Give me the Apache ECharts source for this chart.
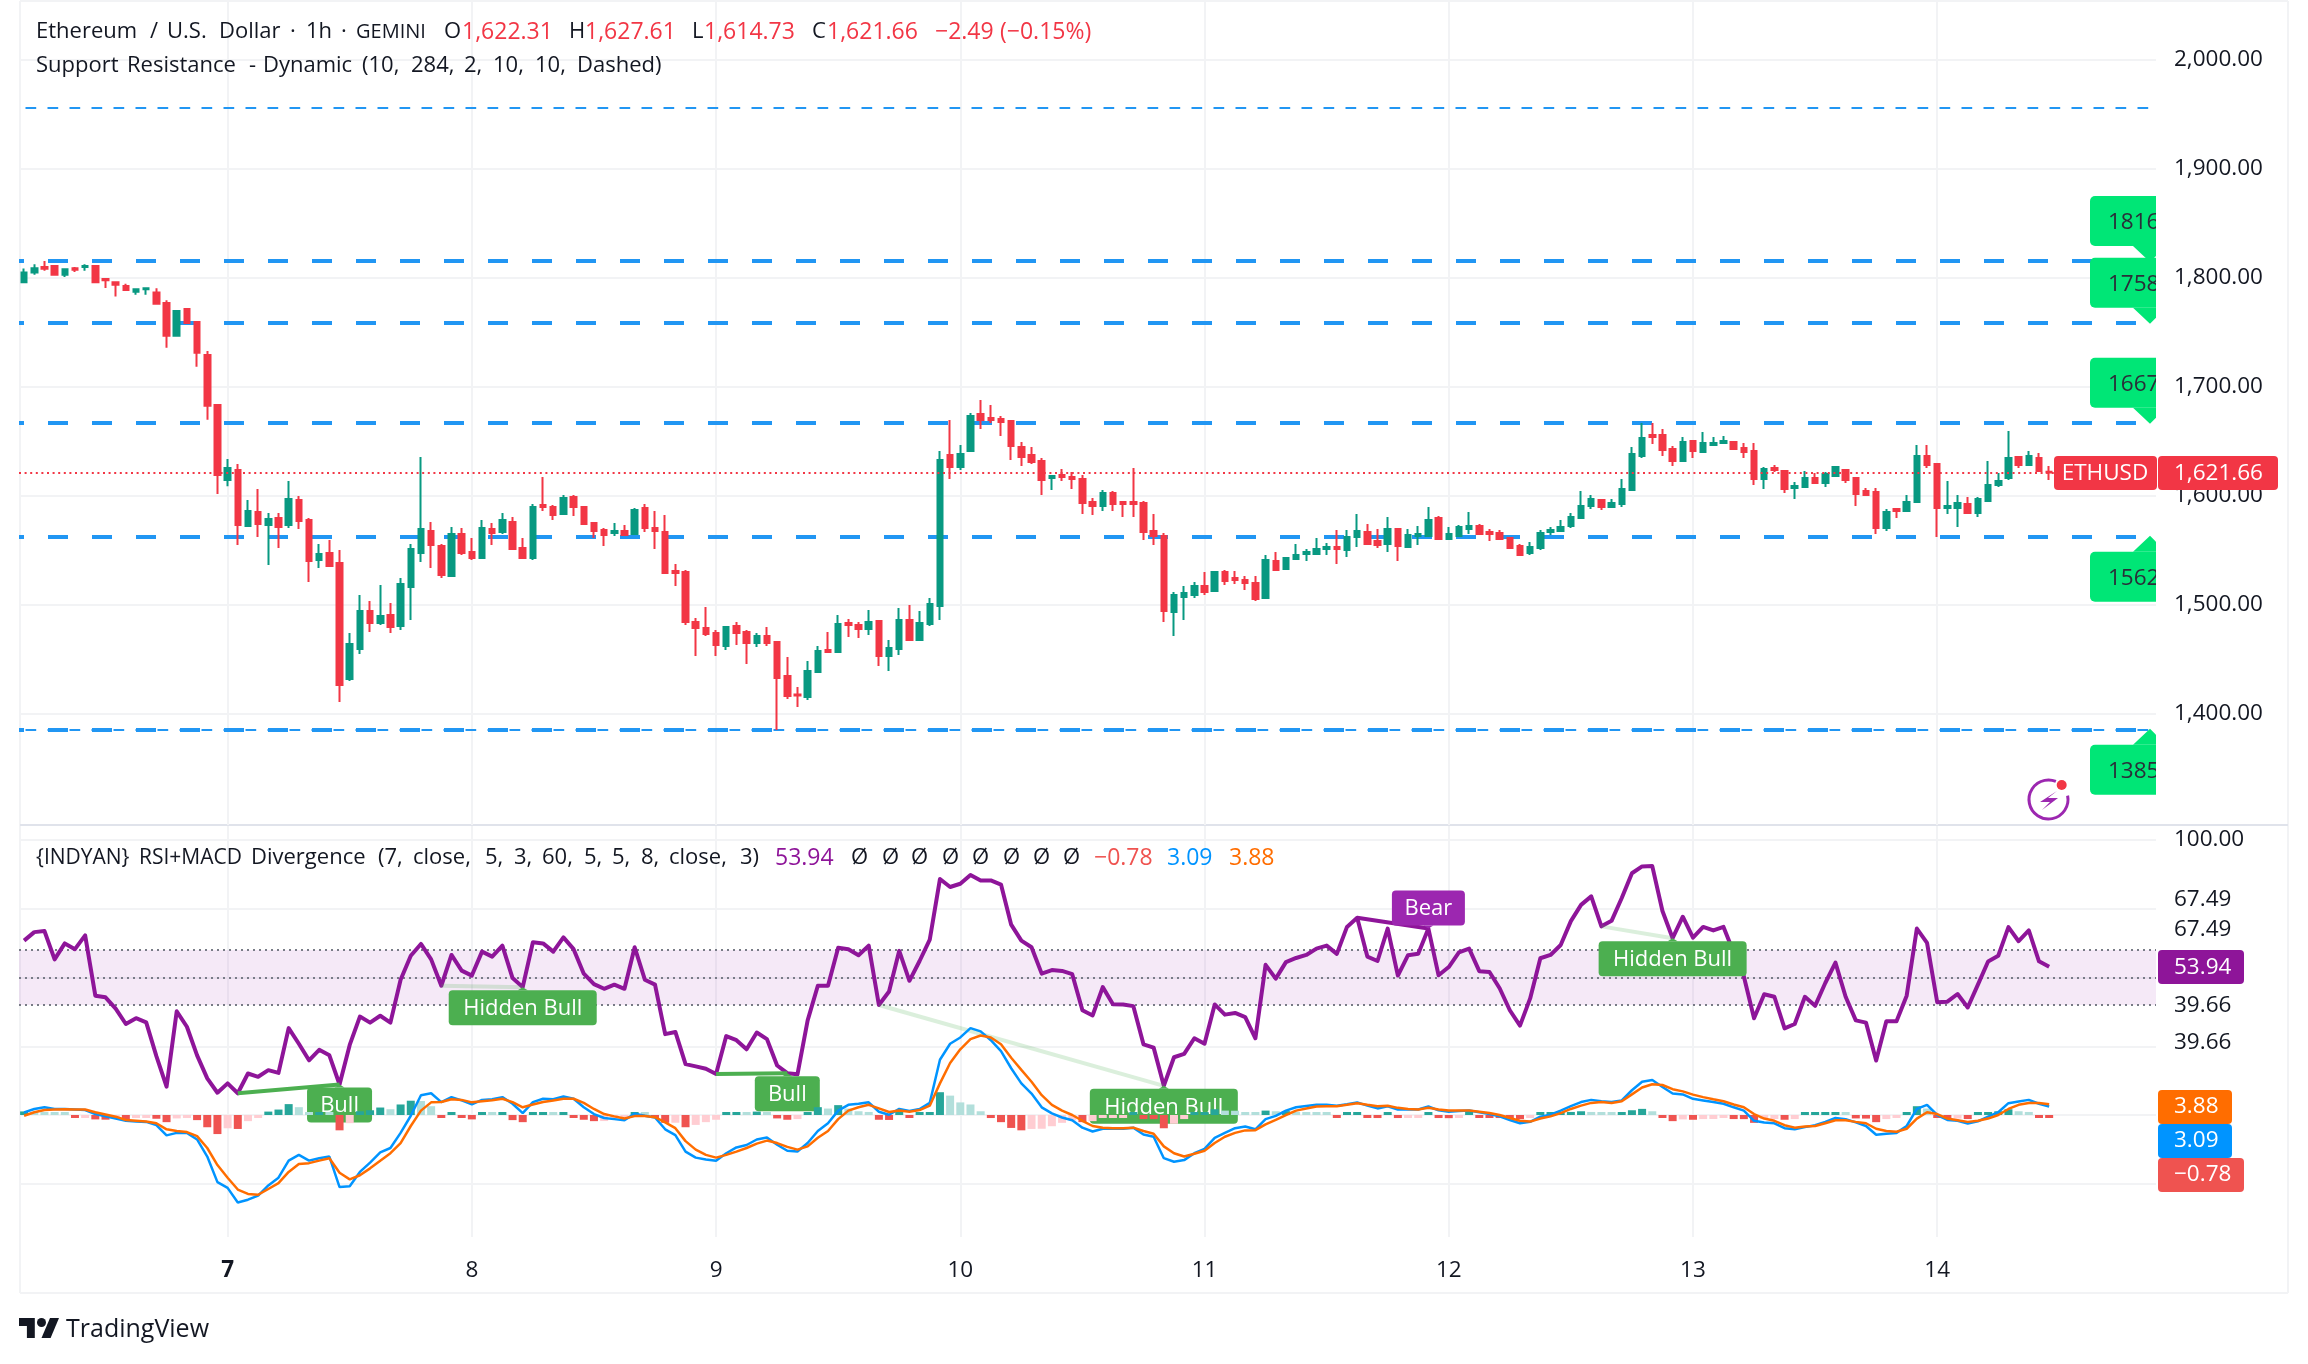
<!DOCTYPE html>
<html>
<head>
<meta charset="utf-8">
<title>ETHUSD</title>
<style>
  html, body { margin: 0; padding: 0; background: #fff; }
  #main { width: 2308px; height: 1364px; }
</style>
<script src="https://cdn.jsdelivr.net/npm/echarts@6/dist/echarts.min.js"></script>
</head>
<body>
<div id="main"></div>
<script>
// candles, one row = 10 bars (1h)
var opens = [
  1796,1805,1810,1811,1803,1809,1810,1811,1799,1796,
  1792.6,1787.4,1789.6,1786.8,1777,1747,1771.5,1759.6,1729.3,1683.4,
  1614.7,1623.8,1572.5,1585.3,1573.4,1579.8,1573.4,1596.3,1578,1541.3,
  1547.7,1538.5,1432.1,1459.6,1494.5,1483.5,1490.8,1480.7,1516.5,1547.7,
  1567.9,1554.1,1526.6,1565.1,1548.6,1543.1,1569.7,1567,1576.1,1552.3,
  1543.1,1591.7,1589.9,1583.5,1599,1589.9,1575.2,1568.8,1566,1567.9,
  1565.1,1589,1570.6,1567,1531.2,1530.2,1484.4,1478.9,1474.3,1462.4,
  1480.7,1475.2,1465.1,1471.5,1466,1434.8,1418,1415.6,1438.6,1458.8,
  1456.9,1483.5,1481.7,1478,1485.4,1453.2,1459.7,1486.3,1468,1482.6,
  1499.1,1637.6,1626.6,1641.3,1675.3,1671.6,1670.7,1668.8,1645,1637.6,
  1632.1,1616.5,1619.3,1617.5,1615.6,1594.5,1590.9,1602.8,1594.5,1594.5,
  1593.6,1567.9,1563.3,1493.6,1507.4,1509.2,1517.5,1512.9,1530.3,1524.8,
  1523,1520.2,1506.5,1540.4,1533,1542.2,1546.8,1546.8,1551.4,1553.2,
  1550.5,1562.4,1567,1558.7,1556,1569.8,1553.2,1563.3,1563.3,1579.9,
  1560.6,1563.3,1569.8,1572.5,1567,1566.1,1561.5,1554.2,1547.7,1552.3,
  1567,1567.9,1572.5,1579.9,1590.9,1596.4,1589.9,1592.7,1605.5,1636.7,
  1656,1656,1643.2,1632.1,1650.5,1640.4,1646.8,1648.7,1649.6,1644.1,
  1641.3,1615.6,1625.7,1623,1607.4,1608.3,1616.5,1612,1618.4,1623.9,
  1616.5,1604.6,1603.7,1570.7,1588.1,1586.3,1594.5,1636.7,1629.4,1589,
  1589,1592.7,1584.4,1595.4,1610.1,1616.5,1635.8,1628.5,1634.9,1622.31
];
var closes = [
  1805,1809,1808.5,1803,1808,1807.6,1811,1796,1798,1793.8,
  1789,1789.6,1790.5,1776.4,1747,1769.7,1758.7,1731.5,1682.8,1619.2,
  1625.7,1573.4,1586.2,1574.3,1578.9,1571.5,1597.2,1577,1540.3,1546.8,
  1535.8,1426.6,1464.2,1494.5,1483.5,1489.9,1479.8,1519.2,1551.4,1569.7,
  1555,1527.5,1565.1,1547.7,1543.1,1570.6,1566,1578,1551.4,1543.1,
  1589.9,1589.9,1582.5,1598.1,1589.9,1574.3,1567.9,1564.2,1567.9,1564.2,
  1587.1,1570.6,1567.9,1529.3,1529.3,1484.4,1478.9,1473.4,1463.3,1479.8,
  1474.3,1465.1,1471.5,1465.1,1433,1416.5,1417,1439.5,1457.8,1456.9,
  1482.6,1481.7,1478,1484.4,1453.2,1460.6,1486.3,1468,1483.5,1501,
  1633,1626.6,1638.6,1673.4,1669.8,1669.8,1667.9,1645.9,1635.8,1631.2,
  1614.7,1618.4,1617.5,1615.6,1593.6,1590.9,1602.8,1592.7,1592.7,1592.7,
  1567,1563.3,1494.5,1509.2,1511,1517.5,1512,1530.3,1522,1523,
  1520.2,1505.5,1541.3,1532.1,1543.2,1545.9,1548.7,1551.4,1553.2,1551.4,
  1562.4,1567.9,1556,1555.1,1569.8,1554.2,1564.3,1565.2,1578,1560.6,
  1565.2,1571.6,1572.5,1565.2,1565.2,1560.6,1552.3,1545.9,1553.2,1566.1,
  1568.8,1571.6,1580.8,1590.9,1597.3,1589.9,1593.6,1606.5,1638.6,1653.2,
  1654.2,1642.2,1632.1,1649.6,1641.3,1648.7,1648.7,1650.5,1643.2,1640.4,
  1615.6,1624.8,1623.9,1606.5,1609.2,1616.5,1612,1620.2,1626.6,1614.7,
  1601.9,1601,1570.7,1585.4,1586.3,1594.5,1636.7,1628.5,1589,1590.9,
  1593.6,1584.4,1597.3,1610.1,1613.8,1634.9,1628.5,1636.7,1623,1621.66
];
var lows = [
  1795.7,1803,1806.7,1803,1801,1805.5,1806.7,1796,1790.8,1783,
  1789,1784.7,1784.7,1776.4,1736,1746,1758.7,1718.6,1670,1601.8,
  1609,1555,1572.5,1562.4,1536.7,1552.3,1570.6,1569.7,1521.1,1533.9,
  1535.8,1411,1430.3,1455,1475.2,1481.6,1474.3,1477,1486.2,1539.4,
  1533.9,1524.7,1526.6,1545.8,1541.3,1543.1,1555,1565.1,1550.4,1543.1,
  1541.3,1586.2,1578,1583.5,1581.6,1573.4,1561.4,1554.1,1563.3,1564.2,
  1564.2,1566.9,1551.4,1529.3,1517.4,1481.6,1453.2,1471.5,1453.2,1458.7,
  1463.3,1445.8,1461.4,1462.4,1385.3,1413.8,1406.4,1412.9,1438.6,1456.9,
  1456.9,1470.7,1469.8,1472.5,1444,1439.5,1454.2,1468,1468,1480.8,
  1486.3,1615.6,1623.9,1641.3,1661.5,1667,1655.1,1633.1,1627.6,1629.4,
  1601,1605.5,1613.8,1606.5,1583.5,1582.6,1586.3,1586.3,1580.8,1580.8,
  1559.7,1555.1,1484.4,1471.6,1486.3,1506.5,1509.2,1512.9,1518.4,1519.3,
  1513.8,1503.7,1505.5,1532.1,1533,1542.2,1540.4,1546.8,1545.9,1537.7,
  1544.1,1553.2,1555.1,1552.3,1548.7,1540.4,1553.2,1555.1,1562.4,1560.6,
  1560.6,1562.4,1565.2,1565.2,1558.7,1559.7,1551.4,1545.9,1545.9,1550.5,
  1564.3,1567.9,1570.7,1579.9,1588.1,1587.2,1589.9,1589.9,1604.6,1634.9,
  1647.7,1636.7,1627.6,1632.1,1634.9,1640.4,1645.9,1648.7,1643.2,1634.9,
  1610.1,1606.5,1622,1602.8,1597.3,1608.3,1611,1608.3,1617.5,1612,
  1590.9,1600,1565.2,1567.9,1579.9,1586.3,1594.5,1625.7,1562.4,1583.5,
  1571.6,1583.5,1580.8,1595.4,1608.3,1614.7,1625.7,1628.5,1623,1614.73
];
var highs = [
  1808.8,1812.5,1815.6,1811.5,1808,1810,1812.5,1811,1799.6,1796,
  1794.8,1789.6,1790.5,1790.5,1779.5,1769.7,1772.4,1759.6,1733,1683.4,
  1633.9,1629.3,1596.3,1606.4,1584.4,1584.4,1613.7,1600,1579.8,1555.9,
  1559.6,1550.4,1474.3,1509.2,1503.6,1518.3,1501.8,1524.7,1555.9,1635.8,
  1576.1,1555.9,1571.5,1570.6,1561.4,1578,1575.2,1584.4,1580.7,1561.4,
  1592.6,1617.4,1591.7,1600.9,1600.9,1589.9,1576.1,1570.6,1575.2,1573.4,
  1589,1592.6,1586.2,1582.5,1537.6,1532.1,1488.1,1498.1,1477,1480.7,
  1484.4,1477,1474.3,1479.8,1467,1452.3,1424.7,1448.7,1462.4,1475.3,
  1490.9,1487.2,1484.4,1495.5,1485.4,1467.9,1497.3,1500,1494.5,1506.5,
  1641.3,1669.8,1646.8,1676.2,1688.1,1683.5,1673.4,1668.8,1649.6,1645,
  1634.9,1619.3,1624.8,1622,1619.3,1598.2,1605.5,1604.6,1595.4,1625.7,
  1595.4,1583.5,1566.1,1511.9,1517.5,1521.1,1530.3,1531.2,1532.1,1531.2,
  1526.6,1526.6,1545.9,1548.7,1544,1556,1551.4,1561.5,1556.9,1568.8,
  1568.8,1583.5,1574.3,1569.8,1580.8,1569.8,1569.8,1572.5,1589.9,1581.7,
  1571.6,1573.4,1585.4,1574.3,1569.8,1568.8,1562.4,1556,1557.8,1568.8,
  1571.6,1578,1584.4,1604.6,1601,1596.4,1597.3,1615.6,1645,1667,
  1667,1661.5,1645.9,1654.2,1650.5,1658.7,1654.2,1655.1,1650.5,1648.7,
  1648.7,1626.6,1628.5,1623,1612.9,1623,1621.1,1622,1626.6,1623.9,
  1616.5,1607.4,1607.4,1588.1,1588.1,1600.9,1646.8,1646.8,1629.4,1613.8,
  1600.9,1599.1,1599.1,1632.1,1621.1,1659.7,1635.8,1641.3,1639.5,1627.61
];
// lower pane
var rsi = [
  63.4,66.5,66.9,56.6,62.4,60.3,65.3,43.4,42.8,38.7,
  33.1,35.2,33.7,21.4,10.3,37.7,32.1,21.7,13.3,8.1,
  11.5,7.9,15.1,13.9,16.3,15.3,31.6,25.9,19.9,23.7,
  21.7,11.1,25.5,35.8,33.6,36.1,33.6,49.2,57.9,62.2,
  56.6,47,58.2,52.5,50.7,59.4,57.6,61.6,49.8,46.5,
  62.8,62.4,59.4,64.6,60.3,51.4,47.6,45.9,47.4,45.9,
  61,49.2,47.4,29.4,30.2,18.5,17.7,16.8,14.9,28.7,
  27.2,23.9,30,27.6,18,15.2,14.8,34.4,47,47,
  60.8,60.3,58.1,61.6,40,44.9,59.7,48.8,56,63.8,
  85.8,82.9,84.1,87.3,85.3,85.3,83.8,69.2,63.4,61,
  51.4,52.7,52.4,51.2,38.1,36.2,46.5,40.3,40.2,39.6,
  25.7,24.5,10.6,21,22.2,27.9,25.9,40.2,36.5,37.1,
  35.6,27.9,54.6,49.6,55.6,57.1,58.2,60.5,61.6,58.6,
  68.4,71.7,57.6,56,67.8,50.7,58.1,58.6,67.8,50.8,
  53.8,59.1,60.5,52.3,52,46.1,38.1,32.5,42.4,57,
  58.2,61.8,70.5,76.4,79.5,68.6,70.6,78.9,87.9,90.4,
  90.5,74.2,64.3,72.1,64.5,68.4,67.1,68.4,59.1,50.4,
  35.2,43.9,43,31.5,33.1,43,39.7,48,55.4,43,
  34.4,33.6,19.8,34.1,34.1,43.4,67.8,62.6,41,41.2,
  44,39.1,47.4,55.8,57.9,68.3,63.2,67.1,55.9,53.94
];
var macd = [
  0.97,2.2,2.8,2.2,2.2,2,1.8,0.35,-0.5,-1.3,
  -2.1,-2.4,-2.5,-3.7,-7.4,-6.5,-6.5,-8.9,-15.1,-24.4,
  -26.5,-31.8,-30.8,-29.3,-25.6,-22.8,-16.6,-14.5,-16.6,-15.7,
  -15.1,-26.2,-25.9,-20.7,-17.3,-13.6,-12,-6.5,-0.27,7.2,
  7.9,4.7,6.5,5.3,3.9,5.5,5.7,6.5,4.1,0.7,
  4.7,5.9,5.7,6.7,5.9,2.8,0.35,-1.1,-1.5,-1.9,
  0.5,-0.27,-0.9,-5.2,-7.3,-13.3,-15.5,-16.2,-16.6,-13.9,
  -11.8,-10.9,-8.9,-8.2,-10.8,-13,-13.3,-10.2,-5.8,-3,
  1.6,3.7,4.1,4.6,1.2,0.1,2.2,1.5,2.2,4.4,
  20.1,25.9,28.2,31.6,30.4,27.2,23.2,17,11.5,7.8,
  2.8,0.6,-0.9,-1.9,-4.6,-6,-5,-5,-5,-4.6,
  -7.1,-7.9,-15.7,-17,-16.4,-13.9,-12.3,-8.3,-6.5,-4.8,
  -4.2,-5.2,-1.5,-0.3,1.6,2.8,3.3,3.7,3.7,3.4,
  3.9,4.6,3.4,2.4,3.2,2,2,2,3.1,1.7,
  1.2,1.5,1.6,1,0.35,-0.5,-1.8,-3,-2.5,-0.6,
  0.1,1.6,3.2,4.7,5.5,5,4.7,5.3,9,12.1,
  12.7,10.2,7.8,7.5,5.9,5.3,4.7,4.1,2.8,1.6,
  -2.1,-2.7,-3,-4.8,-5.2,-4.4,-3.7,-2.5,-1.1,-1.5,
  -2.7,-4,-7.2,-6.8,-6.5,-4,2.2,3.7,0,-1.8,
  -2.1,-3.1,-2.3,-0.6,1,4.3,4.9,5.5,4.1,3.09
];
var signal = [
  -0.27,1,1.8,2,2.1,2,2,1,0.2,-0.6,
  -1.8,-2.1,-2.4,-3,-5.2,-5.8,-6.2,-7.7,-12,-18.2,
  -22.8,-27.1,-28.7,-29,-26.9,-24.8,-20.7,-17.8,-17.5,-16.6,
  -15.7,-21,-23.4,-21.9,-19.4,-16.6,-13.9,-10.2,-4,1.6,
  4.6,4.7,5.7,5.5,4.6,5,5.4,5.9,4.7,2.8,
  3.8,4.7,5.3,5.9,5.9,4.4,2.2,0.35,-0.5,-1.3,
  -0.4,-0.4,-0.8,-2.7,-4.8,-9.5,-12.6,-14.5,-15.5,-14.5,
  -13.3,-12,-10.4,-9.3,-10.2,-11.6,-12.6,-11.4,-8.3,-5.8,
  -1.5,1.6,2.8,3.7,2.4,1.1,1.6,1.2,1.8,3.4,
  11.5,18.9,23.9,27.6,28.9,28.2,25.7,20.8,16.4,12.1,
  7.2,3.7,1.6,0,-2.1,-4,-4.6,-4.8,-4.8,-4.6,
  -5.8,-6.8,-11.4,-13.9,-15.1,-14.1,-13,-10.2,-7.9,-6.5,
  -5.6,-5.5,-3.4,-1.8,0,1.6,2.4,3.1,3.2,3.2,
  3.7,4.3,3.7,3.2,3.4,2.6,2.2,2,2.6,2,
  1.6,1.6,1.6,1.2,0.7,0,-1.1,-2.1,-2.4,-1.3,
  -0.5,0.7,2.2,3.4,4.4,4.7,4.4,5,7.5,10,
  11.2,10.9,9.4,8.6,7.4,6.5,5.7,5,3.8,2.8,
  0.35,-1.3,-2.1,-3.7,-4.6,-4.2,-4,-3,-1.9,-1.9,
  -2.5,-3,-5,-5.8,-6.1,-5,-1.3,1,0.35,-1.3,
  -1.9,-2.5,-2.1,-1.3,0,2.2,3.7,4.4,4.4,3.88
];
var hist = [
  1.3,1.1,0.5,0.15,0.1,-0.87,-0.5,-1.6,-1.7,-0.87,
  -1.6,-1.1,-0.87,-1.36,-2.6,-1.24,-1.1,-1.86,-4.45,-6.93,
  -4.82,-5.07,-2.23,-0.87,1.24,1.98,3.96,2.85,0.12,0.37,
  0.2,-5.57,-2.97,1.36,1.73,2.72,2.1,3.83,5.2,5.1,
  3.2,-0.74,0.87,-0.87,-1.6,0.15,0.12,0.3,-1.86,-2.6,
  0.5,0.87,0.3,0.5,-0.87,-1.73,-2.23,-2.2,-1.1,-0.87,
  0.15,0.05,-0.87,-2.85,-2.8,-4.45,-3.6,-2.6,-1.73,0.37,
  0.87,0.8,1.24,0.87,-1.24,-1.73,-1.48,0.99,2.85,2.35,
  3.59,2.35,1.36,1.11,-1.73,-1.8,0.15,-0.87,0.15,0.87,
  8.29,7.05,4.58,3.83,1.36,-1.1,-2.6,-4.7,-5.57,-5.07,
  -5,-4.08,-2.85,-1.98,-2.6,-2.23,-0.87,-0.8,-0.37,0.15,
  -1.48,-1.5,-4.82,-3.2,-1.48,0.15,0.87,2.1,1.6,1.55,
  0.87,0.12,1.6,1.36,1.4,0.74,0.62,0.5,0.12,-0.62,
  0.15,0.2,-0.87,-1.1,0.15,-1.1,-0.87,-0.8,0.2,-1.1,
  -1.15,-0.5,0.12,-0.87,-1,-1.1,-1.24,-1.48,-0.87,0.62,
  0.65,0.7,1.11,1.36,1.11,0.37,0.3,0.35,1.73,2.23,
  1.36,-0.87,-2.23,-1.6,-1.73,-1.48,-1.45,-1.1,-1.48,-1.5,
  -2.85,-1.48,-1.45,-1.73,-1.48,0.15,0.2,0.62,0.99,0.12,
  -1.24,-1.3,-2.6,-1.48,-0.87,0.62,3.2,2.35,-0.87,-1.36,
  -1.3,-1.48,0.12,0.87,1.36,2.1,1.36,1.11,-0.7,-0.78
];

var dayLabels = ['7','8','9','10','11','12','13','14'];
var firstDayBar = 20;
var barsPerDay = 24;
var barSlots = 210;           // 200 bars + empty space on the right

var priceTicks = [1400,1500,1600,1700,1800,1900,2000];
var oscGrid = [100,75,50,25,0,-25];
var oscLabels = [100,67.49,50,39.66,0,-25];
var oscLevels = [60,50,40];

var srLevels = [1815.6,1758.9,1667.2,1562.6,1385.6];
var srTexts = ['1816','1758','1667','1562','1385'];
var thinLevels = [1956,1385.6];
var lastPrice = 1621.66;

var divFrom = [21,41,68,84,131,155];
var divTo = [31,49,75,112,138,162];
var divKind = ['Bull','Hidden Bull','Bull','Hidden Bull','Bear','Hidden Bull'];

var FONT = '"Open Sans", sans-serif';
var TXT = 22;
var NUM = 23;
var AXT = 22.5;
var INK = '#131722';
var RED = '#f23645';
var GREEN = '#089981';
var BLUE = '#2196f3';
var PURPLE = '#8e1599';
var GRIDC = '#f2f3f5';

var categories = [];
for (var i = 0; i < barSlots; i++) {
  var d = (i - firstDayBar) / barsPerDay;
  categories.push(d >= 0 && d === Math.floor(d) && dayLabels[d] ? dayLabels[d] : '');
}

var candles = [];
for (var i = 0; i < opens.length; i++) {
  candles.push([opens[i], closes[i], lows[i], highs[i]]);
}

// histogram colours: same rule as the indicator, rising / falling against the previous bar
var histData = hist.map(function (v, i) {
  var prev = i > 0 ? hist[i - 1] : 0;
  var c;
  if (v >= 0) c = v > prev ? '#26a69a' : '#b2dfdb';
  else c = v < prev ? '#ef5350' : '#ffcdd2';
  return { value: v, itemStyle: { color: c } };
});

// day lines for both panes
var dayLines = [];
dayLabels.forEach(function (t, k) {
  dayLines.push({ xAxis: firstDayBar + k * barsPerDay });
});

var levelLines = srLevels.map(function (v) {
  return { yAxis: v, lineStyle: { color: BLUE, width: 4, type: [20, 24], dashOffset: 15 } };
});
thinLevels.forEach(function (v) {
  levelLines.push({ yAxis: v, lineStyle: { color: BLUE, width: 2, type: [10.7, 11.3], dashOffset: 15.5 } });
});

function txt(text, x, y, color, size, align) {
  return {
    type: 'text', z: 60, silent: true,
    style: {
      text: text, x: x, y: y, fill: color, font: (size || TXT) + 'px ' + FONT,
      align: align || 'left', verticalAlign: 'middle'
    }
  };
}
function tag(x, y, w, h, color) {
  return { type: 'rect', z: 55, silent: true, shape: { x: x, y: y, width: w, height: h, r: 4 }, style: { fill: color } };
}
function hline(x1, y1, x2, y2, color) {
  return { type: 'line', z: 0, silent: true, shape: { x1: x1, y1: y1, x2: x2, y2: y2 }, style: { stroke: color, lineWidth: 2 } };
}
// the header words are placed one by one, the reference font has wider spaces
function words(list, y) {
  return list.map(function (w) { return txt(w[0], w[1], y, w[2] || INK, w[3]); });
}

var graphics = [
  hline(20, 1, 2288, 1, GRIDC), hline(20, 1, 20, 1293, GRIDC),
  hline(2288, 1, 2288, 1293, GRIDC), hline(20, 1293, 2288, 1293, GRIDC),
  hline(20, 825, 2288, 825, '#e0e3eb'),

  // price tag
  tag(2054, 456, 103, 34, RED), tag(2158, 456, 120, 34, RED),
  txt('ETHUSD', 2105, 474, '#fff', AXT, 'center'), txt('1,621.66', 2174, 474, '#fff', AXT),

  // displaced scale labels
  txt('67.49', 2174, 900, INK, AXT), txt('39.66', 2174, 1043, INK, AXT),

  // indicator tags
  tag(2158, 950, 86, 34, PURPLE), txt('53.94', 2174, 968, '#fff', AXT),
  tag(2158, 1090, 74, 34, '#ff6d00'), txt('3.88', 2174, 1107, '#fff', AXT),
  tag(2158, 1124, 74, 34, '#0094ff'), txt('3.09', 2174, 1141, '#fff', AXT),
  tag(2158, 1158, 86, 34, '#ef5350'), txt('−0.78', 2174, 1175, '#fff', AXT),

  // logo
  {
    type: 'polygon', z: 60, silent: true,
    shape: { points: [[19,1318],[34.8,1318],[34.8,1338],[26.9,1338],[26.9,1326],[19,1326]] },
    style: { fill: INK }
  },
  {
    type: 'polygon', z: 60, silent: true,
    shape: { points: [[50.6,1338],[41.5,1338],[50,1318],[59,1318]] },
    style: { fill: INK }
  },
  { type: 'circle', z: 60, silent: true, shape: { cx: 41.5, cy: 1322.5, r: 4.5 }, style: { fill: INK } },
  txt('TradingView', 66, 1330, INK, 25),

  // lightning badge
  {
    type: 'arc', z: 60, silent: true,
    shape: { cx: 2048.5, cy: 799.5, r: 19.5, startAngle: -0.2, endAngle: 5.1, clockwise: true },
    style: { fill: 'none', stroke: '#9c27b0', lineWidth: 3 }
  },
  {
    type: 'polygon', z: 60, silent: true,
    shape: { points: [[2057,791],[2040,802],[2050,802],[2042,810],[2058,798],[2048,798]] },
    style: { fill: '#9c27b0' }
  },
  { type: 'circle', z: 61, silent: true, shape: { cx: 2061.7, cy: 785, r: 5 }, style: { fill: RED } }
].concat(
  words([
    ['Ethereum', 36], ['/', 150], ['U.S.', 167], ['Dollar', 219], ['·', 290], ['1h', 306], ['·', 341], ['GEMINI', 356, INK, 20],
    ['O', 444], ['1,622.31', 462, RED, NUM], ['H', 569], ['1,627.61', 585, RED, NUM],
    ['L', 692], ['1,614.73', 704, RED, NUM], ['C', 812], ['1,621.66', 827, RED, NUM],
    ['−2.49', 935, RED, NUM], ['(−0.15%)', 1000, RED, NUM]
  ], 32),
  words([
    ['Support', 36], ['Resistance', 127], ['-', 249], ['Dynamic', 263], ['(10,', 362], ['284,', 411],
    ['2,', 464], ['10,', 493], ['10,', 535], ['Dashed)', 577]
  ], 66),
  words([
    ['{INDYAN}', 36, INK, 21], ['RSI+MACD', 139, INK, 21], ['Divergence', 251], ['(7,', 378], ['close,', 413], ['5,', 485], ['3,', 514],
    ['60,', 542], ['5,', 584], ['5,', 612], ['8,', 641], ['close,', 669], ['3)', 740],
    ['53.94', 775, PURPLE, NUM], ['Ø', 851], ['Ø', 882], ['Ø', 911], ['Ø', 942], ['Ø', 972], ['Ø', 1003], ['Ø', 1033], ['Ø', 1063],
    ['−0.78', 1094, '#ef5350', NUM], ['3.09', 1167, '#0094ff', NUM], ['3.88', 1229, '#ff6d00', NUM]
  ], 858)
);

var option = {
  animation: false,
  backgroundColor: '#fff',
  textStyle: { fontFamily: FONT },
  graphic: { elements: graphics },
  grid: [
    { left: 19, width: 2137, top: 1, height: 824 },
    { left: 19, width: 2137, top: 826, height: 411 }
  ],
  xAxis: [
    {
      type: 'category', gridIndex: 0, data: categories,
      axisLine: { show: false }, axisTick: { show: false }, axisLabel: { show: false }, splitLine: { show: false }
    },
    {
      type: 'category', gridIndex: 1, data: categories,
      axisLine: { show: false }, axisTick: { show: false }, splitLine: { show: false },
      axisLabel: {
        interval: function (i, v) { return v !== ''; },
        color: INK, fontSize: AXT, fontFamily: FONT, margin: 22,
        formatter: function (v) { return v === '7' ? '{b|7}' : v; },
        rich: { b: { fontWeight: 'bold', fontSize: AXT, color: INK, fontFamily: FONT } }
      }
    }
  ],
  yAxis: [
    {
      type: 'value', gridIndex: 0, position: 'right', min: 1298.2, max: 2054.1, scale: true,
      axisLine: { show: false },
      axisTick: { show: false, customValues: priceTicks },
      splitLine: { show: true, lineStyle: { color: GRIDC, width: 2 } },
      axisLabel: {
        customValues: priceTicks, color: INK, fontSize: AXT, fontFamily: FONT, margin: 18, padding: [4, 0, 0, 0],
        formatter: function (v) { return v.toLocaleString('en-US', { minimumFractionDigits: 2 }); }
      }
    },
    {
      type: 'value', gridIndex: 1, position: 'right', min: -44.36, max: 105.09, scale: true,
      axisLine: { show: false },
      axisTick: { show: false, customValues: oscGrid },
      splitLine: { show: true, lineStyle: { color: GRIDC, width: 2 } },
      axisLabel: {
        customValues: oscLabels, color: INK, fontSize: AXT, fontFamily: FONT, margin: 18, padding: [7, 0, 0, 0],
        formatter: function (v) { return v.toFixed(2); }
      }
    }
  ],
  series: [
    // day lines + support/resistance, top pane
    {
      type: 'line', xAxisIndex: 0, yAxisIndex: 0, data: [], z: 1,
      markLine: {
        silent: true, symbol: 'none', animation: false, z: 0, label: { show: false },
        lineStyle: { color: GRIDC, width: 2, type: 'solid' }, data: dayLines
      }
    },
    {
      type: 'line', xAxisIndex: 0, yAxisIndex: 0, data: [], z: 1,
      markLine: {
        silent: true, symbol: 'none', animation: false, z: 1, label: { show: false },
        data: levelLines
      }
    },
    {
      type: 'candlestick', name: 'ETHUSD', xAxisIndex: 0, yAxisIndex: 0, data: candles, z: 2,
      barWidth: 6,
      itemStyle: { color: GREEN, color0: RED, borderColor: GREEN, borderColor0: RED, borderWidth: 2 }
    },
    // last price line
    {
      type: 'line', xAxisIndex: 0, yAxisIndex: 0, data: [], z: 3,
      markLine: {
        silent: true, symbol: 'none', animation: false, z: 3, label: { show: false },
        data: [{ yAxis: lastPrice, lineStyle: { color: RED, width: 2, type: [2, 3.6] } }]
      }
    },
    // S/R flags
    {
      type: 'custom', xAxisIndex: 0, yAxisIndex: 0, z: 4, clip: true,
      data: srLevels.map(function (v) { return [0, v]; }),
      encode: { x: 0, y: 1 },
      renderItem: function (params, api) {
        var g = params.coordSys;
        var right = g.x + g.width;
        var y = api.coord([0, api.value(1)])[1];
        var above = api.value(1) > lastPrice;
        var top = above ? y - 65 : y + 15;
        var pts = above
          ? [[right - 23, y - 15], [right - 6, y + 1], [right + 1, y - 6], [right + 1, y - 15]]
          : [[right - 23, y + 15], [right - 6, y - 1], [right + 1, y + 6], [right + 1, y + 15]];
        return {
          type: 'group',
          children: [
            { type: 'rect', shape: { x: right - 66, y: top, width: 76, height: 50, r: 5 }, style: { fill: '#00e676' } },
            { type: 'polygon', shape: { points: pts }, style: { fill: '#00e676' } },
            {
              type: 'text',
              style: {
                text: srTexts[params.dataIndex], x: right - 48, y: top + 26.5, fill: '#2a2e39',
                font: AXT + 'px ' + FONT, align: 'left', verticalAlign: 'middle'
              }
            }
          ]
        };
      }
    },

    // lower pane: day lines, rsi band
    {
      type: 'line', xAxisIndex: 1, yAxisIndex: 1, data: [], z: 1,
      markLine: {
        silent: true, symbol: 'none', animation: false, z: 0, label: { show: false },
        lineStyle: { color: GRIDC, width: 2, type: 'solid' }, data: dayLines
      }
    },
    {
      type: 'line', xAxisIndex: 1, yAxisIndex: 1, data: [], z: 1,
      markArea: {
        silent: true, animation: false, itemStyle: { color: 'rgba(156,39,176,0.1)' },
        data: [[{ yAxis: oscLevels[0] }, { yAxis: oscLevels[2] }]]
      },
      markLine: {
        silent: true, symbol: 'none', animation: false, z: 2, label: { show: false },
        lineStyle: { color: '#787b86', width: 2, type: [2, 4] },
        data: oscLevels.map(function (v) { return { yAxis: v }; })
      }
    },
    {
      type: 'line', name: 'RSI', xAxisIndex: 1, yAxisIndex: 1, data: rsi, z: 2,
      showSymbol: false, lineStyle: { color: PURPLE, width: 4, join: 'round' }
    },
    // divergence lines and boxes
    {
      type: 'custom', xAxisIndex: 1, yAxisIndex: 1, z: 3,
      data: divFrom.map(function (f, k) { return [divTo[k], rsi[divTo[k]]]; }),
      encode: { x: 0, y: 1 },
      renderItem: function (params, api) {
        var k = params.dataIndex;
        var a = api.coord([divFrom[k], rsi[divFrom[k]]]);
        var b = api.coord([divTo[k], rsi[divTo[k]]]);
        var kind = divKind[k];
        var fill = kind === 'Bear' ? '#9c27b0' : '#4caf50';
        var stroke = kind === 'Bear' ? '#8e1599' : (kind === 'Bull' ? '#4caf50' : 'rgba(76,175,80,0.2)');
        var w = kind === 'Hidden Bull' ? 148 : (kind === 'Bull' ? 65 : 73);
        var h = 35;
        var top = kind === 'Bear' ? b[1] - h - 3 : b[1] + 3;
        var tipY = kind === 'Bear' ? top + h + 3 : top - 3;
        var baseY = kind === 'Bear' ? top + h : top;
        return {
          type: 'group',
          children: [
            { type: 'line', shape: { x1: a[0], y1: a[1], x2: b[0], y2: b[1] }, style: { stroke: stroke, lineWidth: 4 } },
            { type: 'polygon', shape: { points: [[b[0] - 5, baseY], [b[0], tipY], [b[0] + 5, baseY]] }, style: { fill: fill } },
            { type: 'rect', shape: { x: b[0] - w / 2, y: top, width: w, height: h, r: 4 }, style: { fill: fill } },
            {
              type: 'text',
              style: {
                text: kind, x: b[0], y: top + h / 2 + 1, fill: '#fff', font: '22px ' + FONT,
                align: 'center', verticalAlign: 'middle'
              }
            }
          ]
        };
      }
    },
    {
      type: 'bar', name: 'Hist', xAxisIndex: 1, yAxisIndex: 1, data: histData, z: 4, barWidth: 8, barMinHeight: 3
    },
    {
      type: 'line', name: 'MACD', xAxisIndex: 1, yAxisIndex: 1, data: macd, z: 5,
      showSymbol: false, lineStyle: { color: '#0094ff', width: 2.5 }
    },
    {
      type: 'line', name: 'Signal', xAxisIndex: 1, yAxisIndex: 1, data: signal, z: 6,
      showSymbol: false, lineStyle: { color: '#ff6d00', width: 2.5 }
    }
  ]
};

var myChart = echarts.init(document.getElementById('main'));
myChart.setOption(option);
</script>
</body>
</html>
